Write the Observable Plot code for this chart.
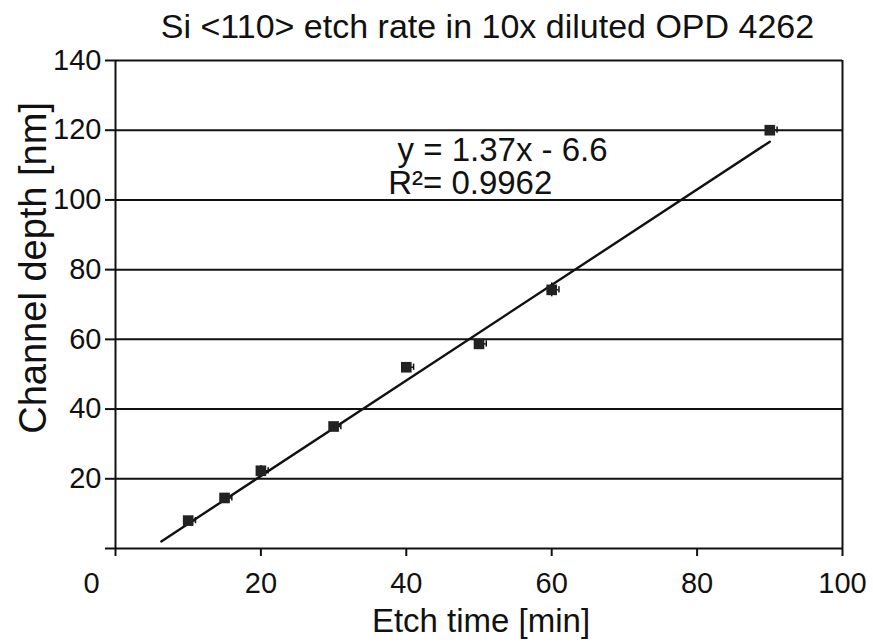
<!DOCTYPE html>
<html>
<head>
<meta charset="utf-8">
<script src="https://cdn.jsdelivr.net/npm/d3@7"></script>
<script src="https://cdn.jsdelivr.net/npm/@observablehq/plot@0.6"></script>
<style>
  html, body { margin: 0; padding: 0; background: #fff; }
  svg { font-family: "Liberation Sans", Arial, sans-serif; }
</style>
</head>
<body>
<div id="chart"></div>
<script>
// Data
const etchTime = [10, 15, 20, 30, 40, 50, 60, 90];
const depth = [8, 14.5, 22.3, 35, 52, 58.7, 74.2, 120];
const xErr = [1.0, 1.0, 1.0, 1.0, 1.0, 1.0, 1.0, 1.0];
const yErr = [0.5, 0.8, 1.5, 0.5, 0.5, 1.2, 2.0, 0.6];
const xTicks = [0, 20, 40, 60, 80, 100];
const yTicks = [0, 20, 40, 60, 80, 100, 120, 140];
const gridY = [20, 40, 60, 80, 100, 120, 140];
const fitSlope = 1.37, fitIntercept = -6.6;
const fitRange = [6.3, 90];

const points = etchTime.map((t, i) => ({t, d: depth[i], ex: xErr[i], ey: yErr[i]}));
const fit = fitRange.map(t => ({t, d: fitSlope * t + fitIntercept}));

const font = "Liberation Sans, Arial, sans-serif";

const chart = Plot.plot({
  width: 873,
  height: 644,
  marginLeft: 115,
  marginRight: 31,
  marginTop: 60,
  marginBottom: 96,
  style: {fontFamily: font, background: "#fff", color: "#111"},
  x: {domain: [0, 100], ticks: xTicks, label: null},
  y: {domain: [0, 140], ticks: yTicks, label: null},
  marks: [
    Plot.ruleY(gridY, {stroke: "#111", strokeWidth: 2}),
    Plot.ruleX([100], {stroke: "#111", strokeWidth: 2}),
    Plot.ruleY([0], {stroke: "#111", strokeWidth: 2}),
    Plot.ruleX([0], {stroke: "#111", strokeWidth: 2}),
    Plot.axisX({ticks: xTicks, tickSize: 8, tickPadding: 16, fontSize: 29,
      tickFormat: d => d === 0 ? "" : d, stroke: "#111", strokeWidth: 2, label: null}),
    Plot.axisY({ticks: yTicks, tickSize: 10, tickPadding: 4, fontSize: 29,
      tickFormat: d => d === 0 ? "" : d, stroke: "#111", strokeWidth: 2, label: null}),
    Plot.text(["0"], {x: 0, frameAnchor: "bottom", lineAnchor: "top", dx: -24, dy: 24, fontSize: 29, fill: "#111"}),
    Plot.line(fit, {x: "t", y: "d", stroke: "#111", strokeWidth: 2.4}),
    // x error whiskers (to the right)
    Plot.ruleY(points, {y: "d", x1: "t", x2: d => d.t + d.ex, stroke: "#111", strokeWidth: 1.5}),
    Plot.ruleX(points, {x: d => d.t + d.ex, y1: d => d.d - 0.9, y2: d => d.d + 0.9, stroke: "#111", strokeWidth: 1.5}),
    // y error bars
    Plot.ruleX(points, {x: "t", y1: d => d.d - d.ey, y2: d => d.d + d.ey, stroke: "#111", strokeWidth: 1.5}),
    Plot.dot(points, {x: "t", y: "d", symbol: "square", r: 6, fill: "#222", stroke: "none"}),
    Plot.text(["y = 1.37x - 6.6"], {x: 38.8, y: 114.2, textAnchor: "start", fontSize: 33, fill: "#111"}),
    Plot.text(["R²= 0.9962"], {x: 37.5, y: 104.7, textAnchor: "start", fontSize: 33, fill: "#111"}),
    Plot.text(["Si <110> etch rate in 10x diluted OPD 4262"], {frameAnchor: "top", lineAnchor: "bottom", textAnchor: "middle", dy: -23, dx: 8.5, fontSize: 34, fill: "#111"}),
    Plot.text(["Etch time [min]"], {frameAnchor: "bottom", lineAnchor: "bottom", textAnchor: "middle", dy: 83, dx: 2, fontSize: 33, fill: "#111"}),
    Plot.text(["Channel depth [nm]"], {frameAnchor: "left", y: 80.5, lineAnchor: "bottom", textAnchor: "middle", dx: -70, rotate: -90, fontSize: 38, fill: "#111"})
  ]
});
document.getElementById("chart").appendChild(chart);
</script>
</body>
</html>
